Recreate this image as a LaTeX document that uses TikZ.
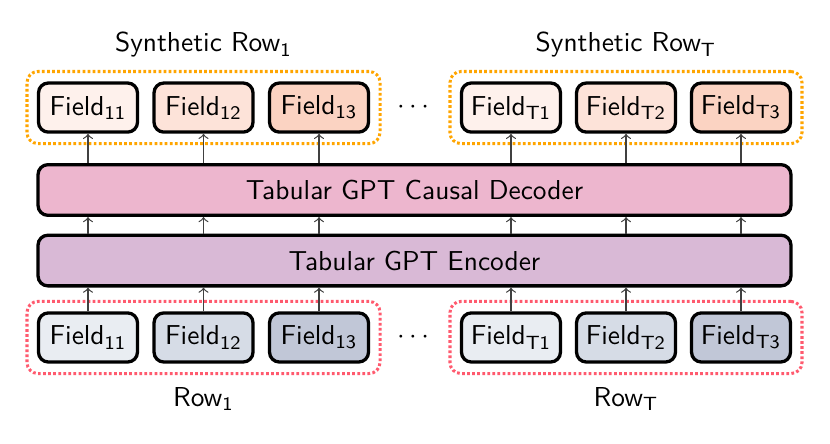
\documentclass[tikz,border=0pt]{standalone}
\usetikzlibrary{positioning,fit}

\definecolor{synA}{HTML}{FEF1EC}
\definecolor{synB}{HTML}{FDE3D9}
\definecolor{synC}{HTML}{FBD3C2}
\definecolor{rowA}{HTML}{E9EDF2}
\definecolor{rowB}{HTML}{D6DCE6}
\definecolor{rowC}{HTML}{C1C7D7}
\definecolor{decfill}{HTML}{EDB6CE}
\definecolor{encfill}{HTML}{D9B9D6}
\definecolor{synline}{HTML}{FFA500}
\definecolor{rowline}{HTML}{FF5A6E}

\tikzset{
  field/.style={draw, line width=1.2pt, rounded corners=3.6pt,
    minimum width=1.27cm, minimum height=0.63cm, inner sep=0pt},
  block/.style={draw, line width=1.2pt, rounded corners=3.6pt,
    minimum width=9.66cm, minimum height=0.65cm},
  group/.style={draw, line width=1.1pt, dash pattern=on 1pt off 0.85pt,
    rounded corners=4pt, inner sep=3.6pt},
  flow/.style={->, line width=0.45pt, black!75}
}

\begin{document}
\sffamily
\begin{tikzpicture}
  \useasboundingbox (0,0) rectangle (10.649,5.684);

  % Encoder and decoder
  \node[block, fill=encfill] (enc) at (5.318,2.341) {Tabular GPT Encoder};
  \node[block, fill=decfill] (dec) at (5.318,3.246) {Tabular GPT Causal Decoder};

  % Input rows
  \node[field, fill=rowA] (in11) at (1.129,1.354) {Field\textsubscript{11}};
  \node[field, fill=rowB] (in12) at (2.611,1.354) {Field\textsubscript{12}};
  \node[field, fill=rowC] (in13) at (4.093,1.354) {Field\textsubscript{13}};
  \node[field, fill=rowA] (inT1) at (6.556,1.354) {Field\textsubscript{T1}};
  \node[field, fill=rowB] (inT2) at (8.032,1.354) {Field\textsubscript{T2}};
  \node[field, fill=rowC] (inT3) at (9.507,1.354) {Field\textsubscript{T3}};
  \node (indots) at (5.299,1.354) {$\cdots$};

  % Synthetic rows
  \node[field, fill=synA] (out11) at (1.129,4.304) {Field\textsubscript{11}};
  \node[field, fill=synB] (out12) at (2.611,4.304) {Field\textsubscript{12}};
  \node[field, fill=synC] (out13) at (4.093,4.304) {Field\textsubscript{13}};
  \node[field, fill=synA] (outT1) at (6.556,4.304) {Field\textsubscript{T1}};
  \node[field, fill=synB] (outT2) at (8.032,4.304) {Field\textsubscript{T2}};
  \node[field, fill=synC] (outT3) at (9.507,4.304) {Field\textsubscript{T3}};
  \node (outdots) at (5.299,4.304) {$\cdots$};

  % Groups
  \node[group, rowline, fit=(in11)(in13)] (row1) {};
  \node[group, rowline, fit=(inT1)(inT3)] (rowT) {};
  \node[group, synline, fit=(out11)(out13)] (syn1) {};
  \node[group, synline, fit=(outT1)(outT3)] (synT) {};

  \node[below=1pt of row1] (row1lbl) {Row\textsubscript{1}};
  \node[below=1pt of rowT] (rowTlbl) {Row\textsubscript{T}};
  \node[above=1pt of syn1] (syn1lbl) {Synthetic Row\textsubscript{1}};
  \node[above=1pt of synT] (synTlbl) {Synthetic Row\textsubscript{T}};

  % Arrows
  \foreach \f in {11,12,13,T1,T2,T3} {
    \draw[flow] (in\f) -- (in\f |- enc.south);
    \draw[flow] (in\f |- enc.north) -- (in\f |- dec.south);
    \draw[flow] (out\f |- dec.north) -- (out\f);
  }
\end{tikzpicture}
\end{document}
